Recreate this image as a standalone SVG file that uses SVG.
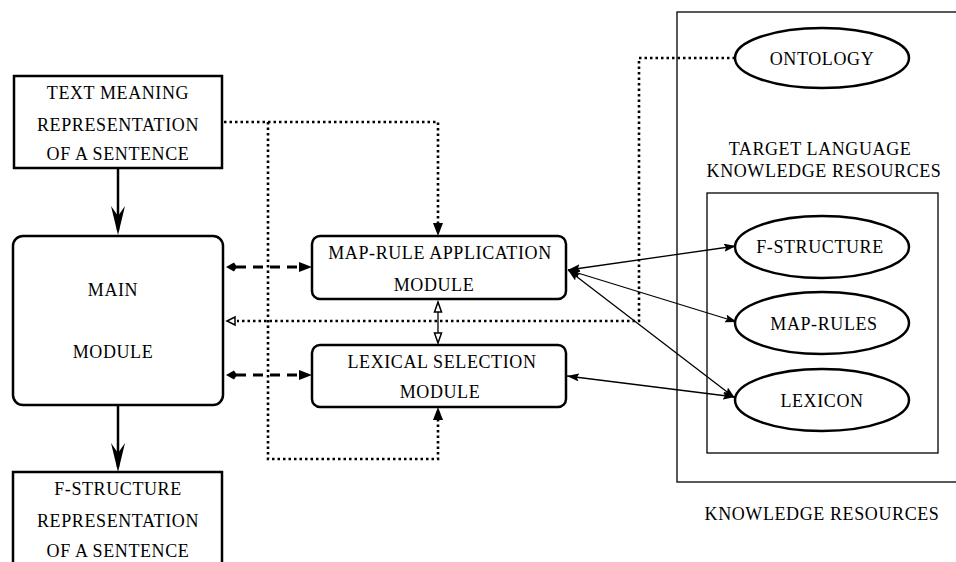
<svg xmlns="http://www.w3.org/2000/svg" width="956" height="562" viewBox="0 0 956 562" font-family="'Liberation Serif', 'DejaVu Serif', serif">
<defs>
<style>
text{font-family:'Liberation Serif','DejaVu Serif',serif;font-size:18px;letter-spacing:0.6px;fill:#000;text-anchor:middle}
.box{fill:#fff;stroke:#000;stroke-width:2.5}
.rbox{fill:#fff;stroke:#000;stroke-width:2.5}
.ell{fill:#fff;stroke:#000;stroke-width:2.5}
.frame{fill:none;stroke:#000;stroke-width:1.3}
.thick{stroke:#000;stroke-width:2.5;fill:none}
.dash{stroke:#000;stroke-width:3;fill:none;stroke-dasharray:10,7}
.dot{stroke:#000;stroke-width:2.6;fill:none;stroke-dasharray:2.5,3}
.thin{stroke:#000;stroke-width:1.3;fill:none}
.head{fill:#000}
.open{fill:#fff;stroke:#000;stroke-width:1.5}
</style>
<marker id="ah" viewBox="0 0 12 8" refX="12" refY="4" markerWidth="12" markerHeight="8" markerUnits="userSpaceOnUse" orient="auto-start-reverse">
<path d="M0,0 L12,4 L0,8 L2,4 Z" fill="#000"/>
</marker>
</defs>

<g id="connectors">
<line class="thick" x1="118" y1="168" x2="118" y2="230"/>
<path class="head" d="M118,235 L111,206 L118,216 L125,206 Z"/>
<line class="thick" x1="118" y1="405" x2="118" y2="467"/>
<path class="head" d="M118,472 L111,443 L118,453 L125,443 Z"/>
<line class="dash" x1="236" y1="267" x2="300" y2="267"/>
<path class="head" d="M226,267 L234,262.5 L237,267 L234,271.5 Z"/>
<path class="head" d="M312,267 L299,262 L299,272 Z"/>
<line class="dash" x1="236" y1="375" x2="300" y2="375"/>
<path class="head" d="M226,375 L234,370.5 L237,375 L234,379.5 Z"/>
<path class="head" d="M312,375 L299,370 L299,380 Z"/>
<polyline class="dot" points="735,58 639,58 639,321 237,321"/>
<path class="open" d="M227,321 L235,317 L235,325 Z"/>
<polyline class="dot" points="224,122 438,122 438,224"/>
<path class="head" d="M438,236 L433,223 L443,223 Z"/>
<polyline class="dot" points="268,122 268,459 438,459 438,420"/>
<path class="head" d="M438,407 L433,420 L443,420 Z"/>
<line class="thin" x1="438" y1="310" x2="438" y2="334"/>
<path class="open" d="M438,302 L434.5,312 L441.5,312 Z"/>
<path class="open" d="M438,343 L434.5,333 L441.5,333 Z"/>
<line class="thin" x1="568" y1="270" x2="736" y2="246" marker-start="url(#ah)" marker-end="url(#ah)"/>
<line class="thin" x1="568" y1="270" x2="737" y2="322" marker-start="url(#ah)" marker-end="url(#ah)"/>
<line class="thin" x1="568" y1="270" x2="735" y2="398" marker-start="url(#ah)" marker-end="url(#ah)"/>
<line class="thin" x1="567" y1="376" x2="735" y2="397" marker-start="url(#ah)" marker-end="url(#ah)"/>
</g>

<g id="knowledge-resources">
<rect class="frame" x="677" y="12" width="290" height="470"/>
<text x="822" y="520">KNOWLEDGE RESOURCES</text>
</g>
<g id="target-language-resources">
<rect class="frame" x="707" y="193" width="231" height="260"/>
<text x="820" y="155">TARGET LANGUAGE</text>
<text x="824" y="177">KNOWLEDGE RESOURCES</text>
</g>

<g id="tmr">
<rect class="box" x="14" y="76" width="208" height="92"/>
<text x="118" y="99">TEXT MEANING</text>
<text x="118" y="131">REPRESENTATION</text>
<text x="118" y="160">OF A SENTENCE</text>
</g>

<g id="main-module">
<rect class="rbox" x="13" y="236" width="210" height="169" rx="10"/>
<text x="113" y="296">MAIN</text>
<text x="113" y="358">MODULE</text>
</g>

<g id="fstructure-output">
<rect class="box" x="13" y="472" width="209" height="100"/>
<text x="118" y="495">F-STRUCTURE</text>
<text x="118" y="527">REPRESENTATION</text>
<text x="118" y="557">OF A SENTENCE</text>
</g>

<g id="map-rule-module">
<rect class="rbox" x="312" y="236" width="254" height="63" rx="8"/>
<text x="440" y="259">MAP-RULE APPLICATION</text>
<text x="434" y="291">MODULE</text>
</g>

<g id="lexical-module">
<rect class="rbox" x="312" y="345" width="254" height="62" rx="8"/>
<text x="442" y="368">LEXICAL SELECTION</text>
<text x="440" y="398">MODULE</text>
</g>

<g id="ontology">
<ellipse class="ell" cx="822" cy="58" rx="87" ry="30"/>
<text x="822" y="65">ONTOLOGY</text>
</g>
<g id="f-structure">
<ellipse class="ell" cx="822" cy="247" rx="87" ry="31"/>
<text x="820" y="253">F-STRUCTURE</text>
</g>
<g id="map-rules">
<ellipse class="ell" cx="822" cy="323" rx="87" ry="31"/>
<text x="824" y="330">MAP-RULES</text>
</g>
<g id="lexicon">
<ellipse class="ell" cx="822" cy="400" rx="87" ry="31"/>
<text x="822" y="407">LEXICON</text>
</g>
</svg>
